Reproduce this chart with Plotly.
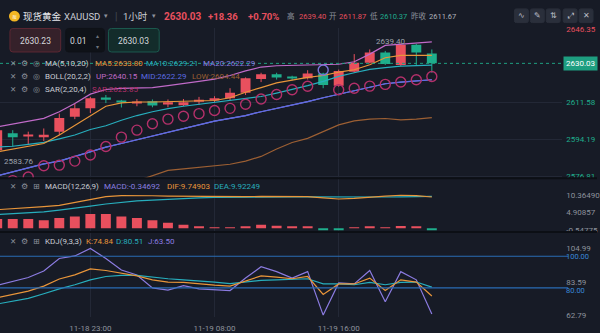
import plotly.graph_objects as go

W, H = 600, 333
PLOT_RIGHT = 565          # right edge of the chart panes, px
FONT = "Roboto, 'Noto Sans CJK SC', sans-serif"
ICON_FONT = "'DejaVu Sans', sans-serif"

# ---------------- data ----------------
times = ["11-18 17:00", "11-18 18:00", "11-18 19:00", "11-18 20:00", "11-18 21:00",
         "11-18 22:00", "11-18 23:00", "11-19 00:00", "11-19 01:00", "11-19 02:00",
         "11-19 03:00", "11-19 04:00", "11-19 05:00", "11-19 07:00", "11-19 08:00",
         "11-19 09:00", "11-19 10:00", "11-19 11:00", "11-19 12:00", "11-19 13:00",
         "11-19 14:00", "11-19 15:00", "11-19 16:00", "11-19 17:00", "11-19 18:00",
         "11-19 19:00", "11-19 20:00", "11-19 21:00", "11-19 22:00"]
opens = [2589.0, 2597.1, 2595.6, 2595.2, 2597.8, 2604.8, 2608.8, 2613.9, 2612.2, 2611.5,
         2612.2, 2611.0, 2610.2, 2611.87, 2612.5, 2613.6, 2616.1, 2622.7, 2624.9, 2623.4,
         2623.0, 2625.2, 2619.5, 2626.1, 2630.3, 2635.2, 2629.3, 2638.8, 2634.7]
highs = [2600.1, 2598.5, 2597.8, 2599.3, 2606.3, 2611.0, 2614.2, 2615.1, 2612.8, 2613.2,
         2613.0, 2613.0, 2613.2, 2614.2, 2614.5, 2618.3, 2623.4, 2625.6, 2625.6, 2624.2,
         2626.8, 2625.6, 2627.1, 2634.4, 2636.6, 2635.9, 2639.40, 2639.2, 2636.6]
lows = [2583.76, 2590.8, 2591.9, 2593.4, 2596.1, 2603.7, 2606.6, 2611.3, 2609.2, 2609.8,
        2609.3, 2609.3, 2609.9, 2610.37, 2611.6, 2612.5, 2615.1, 2621.2, 2622.4, 2622.0,
        2622.4, 2618.3, 2619.0, 2625.6, 2630.0, 2629.3, 2628.8, 2629.3, 2625.6]
closes = [2598.5, 2595.2, 2596.1, 2596.3, 2604.2, 2608.8, 2613.6, 2612.8, 2611.6, 2612.0,
          2610.1, 2611.7, 2611.67, 2612.9, 2613.6, 2616.1, 2623.0, 2624.9, 2623.4, 2623.0,
          2625.2, 2619.8, 2626.4, 2630.3, 2635.2, 2629.7, 2638.8, 2635.2, 2630.03]

ma5 = [2588.3, 2589.6, 2590.9, 2592.2, 2596.2, 2600.6, 2605.4, 2609.8, 2611.4, 2611.8,
       2611.8, 2612.0, 2612.0, 2612.2, 2612.5, 2613.8, 2616.4, 2618.6, 2620.8, 2622.1,
       2623.4, 2624.3, 2625.9, 2627.0, 2629.4, 2632.7, 2633.8, 2633.8, 2633.80]
ma10 = [2590.5, 2590.9, 2591.8, 2592.7, 2594.4, 2596.2, 2598.8, 2600.6, 2603.2, 2605.4,
        2607.2, 2608.7, 2609.8, 2610.7, 2611.6, 2612.5, 2613.3, 2614.4, 2616.0, 2617.7,
        2619.5, 2621.5, 2623.9, 2625.6, 2627.2, 2628.0, 2628.7, 2629.0, 2629.21]
ma20 = [2576.9, 2578.8, 2580.7, 2582.6, 2583.9, 2586.1, 2588.3, 2590.5, 2592.2, 2594.0,
        2595.8, 2597.5, 2599.3, 2601.0, 2602.8, 2604.1, 2605.4, 2607.2, 2608.7, 2610.3,
        2612.0, 2613.8, 2615.5, 2617.3, 2619.05, 2620.4, 2621.2, 2621.9, 2622.29]
boll_up = [2600.1, 2601.5, 2602.8, 2604.1, 2607.2, 2611.1, 2615.5, 2617.7, 2618.2, 2618.4,
           2618.6, 2619.5, 2620.4, 2621.5, 2622.6, 2624.3, 2626.5, 2628.3, 2628.9, 2629.1,
           2629.4, 2629.6, 2629.6, 2630.8, 2634.4, 2638.5, 2639.1, 2639.6, 2640.15]
boll_mid = [2576.9, 2578.8, 2580.7, 2582.6, 2583.9, 2586.1, 2588.3, 2590.5, 2592.2, 2594.0,
            2595.8, 2597.5, 2599.3, 2601.0, 2602.8, 2604.1, 2605.4, 2607.2, 2608.7, 2610.3,
            2612.0, 2613.8, 2615.5, 2617.3, 2619.05, 2620.4, 2621.2, 2621.9, 2622.29]
boll_low = [2555.0, 2557.0, 2559.0, 2561.0, 2560.0, 2561.0, 2564.0, 2568.0, 2571.5, 2574.5,
            2577.0, 2579.5, 2580.2, 2581.0, 2581.7, 2582.4, 2583.9, 2586.1, 2589.6, 2592.7,
            2594.6, 2597.8, 2601.0, 2602.9, 2603.7, 2604.0, 2603.4, 2603.7, 2604.44]
sar = [2572.9, 2574.7, 2576.4, 2581.7, 2582.0, 2583.9, 2586.8, 2590.8, 2595.2, 2598.5,
       2601.5, 2603.7, 2605.1, 2606.3, 2607.8, 2608.8, 2610.7, 2613.2, 2615.3, 2617.6,
       2619.2, 2626.9, 2617.6, 2618.3, 2619.3, 2620.1, 2621.2, 2622.3, 2623.85]

macd_hist = [2.9, 2.9, 2.9, 2.46, 3.17, 3.63, 4.45, 4.45, 3.63, 3.17,
             2.46, 1.72, 1.09, 0.63, 0.27, 0.15, 0.63, 1.09, 0.82, 0.63,
             0.46, -0.46, -0.46, 0.2, 0.64, 0.2, 0.73, 0.55, -0.34692]
dif = [5.79, 6.07, 6.34, 6.75, 7.16, 8.11, 9.07, 9.89, 10.16, 10.22,
       10.14, 10.03, 9.97, 9.92, 9.81, 9.75, 9.84, 9.95, 9.95, 9.92,
       9.86, 9.48, 9.13, 9.34, 9.75, 10.03, 10.30, 10.16, 9.74903]
dea = [4.29, 4.56, 4.84, 5.11, 5.66, 6.20, 6.89, 7.57, 8.11, 8.52,
       8.80, 9.07, 9.29, 9.48, 9.62, 9.70, 9.73, 9.75, 9.78, 9.80,
       9.81, 9.76, 9.72, 9.70, 9.72, 9.76, 9.80, 9.86, 9.92249]

k_line = [73.8, 76.0, 78.0, 81.1, 85.6, 88.2, 92.0, 91.0, 89.3, 87.6,
          85.1, 83.7, 83.5, 82.5, 81.7, 81.1, 84.1, 87.6, 86.8, 85.8,
          87.2, 75.9, 82.5, 82.5, 86.2, 78.3, 85.1, 83.7, 74.84]
d_line = [69.8, 71.6, 73.4, 76.3, 79.4, 82.0, 85.1, 87.2, 87.9, 87.9,
          86.8, 85.8, 85.1, 84.5, 83.7, 82.7, 83.7, 84.8, 85.1, 85.6,
          85.8, 82.5, 82.5, 82.0, 83.5, 82.0, 83.5, 83.7, 80.51]
j_line = [81.7, 84.0, 86.6, 90.7, 98.6, 100.2, 104.99, 98.6, 91.3, 88.2,
          80.0, 78.6, 81.4, 79.4, 78.9, 78.3, 86.2, 93.4, 90.3, 86.2,
          90.3, 62.79, 83.1, 82.5, 91.0, 71.3, 90.3, 85.1, 63.50]

price_ticks = [2646.35, 2611.58, 2594.19, 2576.81]
macd_ticks = [10.36490, 4.90857, -0.54775]
kdj_ticks = [104.99, 83.59, 62.79]
kdj_levels = [100.0, 80.0]
time_ticks = ["11-18 23:00", "11-19 08:00", "11-19 16:00"]

last_price = 2630.03
change = 18.36
change_pct = 0.70
day_high, day_open, day_low, prev_close = 2639.40, 2611.87, 2610.37, 2611.67
bid_price, lot_size, ask_price = 2630.23, "0.01", 2630.03

# ---------------- styling ----------------
BG = "#171b26"
GRID = "#232836"
RED = "#e9505e"
GREEN = "#1fae8c"
C_MA5 = "#e8953a"
C_MA10 = "#27aebd"
C_MA20 = "#8b7be0"
C_UP = "#c06ac8"
C_MID = "#5c6be3"
C_LOW = "#9c5f33"
C_SAR = "#b3306a"
C_SAR_DN = "#7a74d8"
C_MACD = "#8a7fe0"
C_LEVEL = "#2a6db5"
GRAY = "#8d929c"
TXT = "#c9ccd3"


def X(px):
    return px / W


def Y(py):
    return 1 - py / H


idx = list(range(len(times)))
x_range = [2.8 / 15.6, (PLOT_RIGHT + 2.8) / 15.6]

fig = go.Figure()

# candle wicks
for col, up in ((RED, True), (GREEN, False)):
    wx, wy = [], []
    for i in idx:
        if (closes[i] >= opens[i]) == up:
            wx += [i, i, None]
            wy += [lows[i], highs[i], None]
    fig.add_trace(go.Scatter(x=wx, y=wy, mode="lines", line=dict(color=col, width=1),
                             hoverinfo="skip", xaxis="x", yaxis="y"))

# candle bodies
body_base = [min(o, c) for o, c in zip(opens, closes)]
body_h = [max(abs(c - o), 0.55) for o, c in zip(opens, closes)]
body_col = [RED if c >= o else GREEN for o, c in zip(opens, closes)]
fig.add_trace(go.Bar(x=idx, y=body_h, base=body_base, width=0.64,
                     marker=dict(color=body_col, line=dict(width=0)),
                     hoverinfo="skip", xaxis="x", yaxis="y"))

# overlays
for series, col in ((boll_low, C_LOW), (boll_up, C_UP), (ma20, C_MA20),
                    (boll_mid, C_MID), (ma10, C_MA10), (ma5, C_MA5)):
    fig.add_trace(go.Scatter(x=idx, y=series, mode="lines", line=dict(color=col, width=1.2),
                             hoverinfo="skip", xaxis="x", yaxis="y"))

sar_col = [C_SAR if s < lo else C_SAR_DN for s, lo in zip(sar, lows)]
fig.add_trace(go.Scatter(x=idx, y=sar, mode="markers",
                         marker=dict(symbol="circle-open", size=10, color=sar_col,
                                     line=dict(width=1.4, color=sar_col)),
                         hoverinfo="skip", xaxis="x", yaxis="y"))

# MACD pane
fig.add_trace(go.Bar(x=idx, y=macd_hist, width=0.64,
                     marker=dict(color=[RED if v >= 0 else GREEN for v in macd_hist],
                                 line=dict(width=0)),
                     hoverinfo="skip", xaxis="x2", yaxis="y2"))
fig.add_trace(go.Scatter(x=idx, y=dea, mode="lines", line=dict(color=C_MA10, width=1.2),
                         hoverinfo="skip", xaxis="x2", yaxis="y2"))
fig.add_trace(go.Scatter(x=idx, y=dif, mode="lines", line=dict(color=C_MA5, width=1.2),
                         hoverinfo="skip", xaxis="x2", yaxis="y2"))

# KDJ pane
for series, col in ((j_line, C_MA20), (d_line, C_MA10), (k_line, C_MA5)):
    fig.add_trace(go.Scatter(x=idx, y=series, mode="lines", line=dict(color=col, width=1.2),
                             hoverinfo="skip", xaxis="x3", yaxis="y3"))

# ---------------- shapes ----------------
shapes = []


def rrect(x0, y0, x1, y1, r, fill, line=None):
    p = (f"M {X(x0 + r)},{Y(y0)} L {X(x1 - r)},{Y(y0)} Q {X(x1)},{Y(y0)} {X(x1)},{Y(y0 + r)} "
         f"L {X(x1)},{Y(y1 - r)} Q {X(x1)},{Y(y1)} {X(x1 - r)},{Y(y1)} "
         f"L {X(x0 + r)},{Y(y1)} Q {X(x0)},{Y(y1)} {X(x0)},{Y(y1 - r)} "
         f"L {X(x0)},{Y(y0 + r)} Q {X(x0)},{Y(y0)} {X(x0 + r)},{Y(y0)} Z")
    shapes.append(dict(type="path", path=p, xref="paper", yref="paper", fillcolor=fill,
                       line=dict(color=line or fill, width=1), layer="above"))


# pane separators
for yy in (178, 233):
    shapes.append(dict(type="line", xref="paper", yref="paper", x0=0, x1=1, y0=Y(yy), y1=Y(yy),
                       line=dict(color="#0c0f15", width=2)))

# last price dotted line
shapes.append(dict(type="line", xref="paper", yref="y", x0=0, x1=X(PLOT_RIGHT),
                   y0=last_price, y1=last_price, line=dict(color="#1f9e80", width=1, dash="dot")))

# KDJ reference levels
for lv in kdj_levels:
    shapes.append(dict(type="line", xref="paper", yref="y3", x0=0, x1=X(PLOT_RIGHT + 6),
                       y0=lv, y1=lv, line=dict(color=C_LEVEL, width=1.2)))

# coin icon
shapes.append(dict(type="circle", xref="paper", yref="paper", x0=X(9), x1=X(20), y0=Y(18), y1=Y(7),
                   fillcolor="#f3b623", line=dict(color="#f3b623", width=0)))

# order boxes
rrect(10, 25, 61, 49, 3, "#35212a", "#5c2833")
rrect(66, 25, 105, 49, 3, "#0f1218", "#0f1218")
rrect(109, 25, 160, 49, 3, "#132c2b", "#1c5a4f")

# toolbar buttons
tool_boxes = [(517, 531), (533, 547), (549, 563), (566, 580), (582, 596)]
for x0, x1 in tool_boxes:
    rrect(x0, 5, x1, 19, 2, "#2a2f3b")

# ---------------- text ----------------
ann = []


def label(x, y, text, color, size=8, anchor="left", family=FONT, xref="paper", yref="paper",
          **kw):
    d = dict(x=X(x) if xref == "paper" else x, y=Y(y) if yref == "paper" else y,
             xref=xref, yref=yref, text=text, showarrow=False, xanchor=anchor,
             yanchor="middle", font=dict(color=color, size=size, family=family), borderpad=0)
    d.update(kw)
    ann.append(d)


# header line
label(14.5, 12.5, "≋", "#ffffff", 6, "center", ICON_FONT)
label(22, 12.5, "现货黄金", "#e6e8ec", 9.5)
label(63, 12.5, "XAUUSD", TXT, 9.5)
label(104, 12.5, "▾", GRAY, 7, family=ICON_FONT)
label(115, 12.5, "|", "#454a57", 10)
label(123, 12.5, "1小时", TXT, 9.5)
label(152, 12.5, "▾", GRAY, 7, family=ICON_FONT)
label(164, 12.5, f"<b>{last_price:.2f}</b>", RED, 10)
label(208, 12.5, f"<b>+{change:.2f}</b>", RED, 9.5)
label(248, 12.5, f"<b>+{change_pct:.2f}%</b>", RED, 9.5)
label(287, 12.5, "高", GRAY, 7.5)
label(299, 12.5, f"{day_high:.2f}", RED, 7.5)
label(330, 12.5, "开", GRAY, 7.5)
label(340, 12.5, f"{day_open:.2f}", RED, 7.5)
label(371, 12.5, "低", GRAY, 7.5)
label(381, 12.5, f"{day_low:.2f}", GREEN, 7.5)
label(412, 12.5, "昨收", GRAY, 7.5)
label(430, 12.5, f"{prev_close:.2f}", "#aeb2ba", 7.5)

for (x0, x1), g in zip(tool_boxes, ["∿", "✎", "⇅", "⤢", "✕"]):
    label((x0 + x1) / 2, 12, g, "#b9bdc6", 8, "center", ICON_FONT)

# order boxes text
label(35.5, 37.5, f"{bid_price:.2f}", "#d6d8dd", 8.5, "center")
label(79, 37.5, lot_size, "#d6d8dd", 8.5, "center")
label(98, 32, "▴", "#6d727d", 6, "center", ICON_FONT)
label(98, 43, "▾", "#6d727d", 6, "center", ICON_FONT)
label(134.5, 37.5, f"{ask_price:.2f}", "#d6d8dd", 8.5, "center")


def icons(y, third):
    label(13, y, "✕", GRAY, 7.5, "center", ICON_FONT)
    label(25, y, "⚙", GRAY, 8, "center", ICON_FONT)
    label(37, y, third, GRAY, 8, "center", ICON_FONT)


# indicator legends
icons(61, "◎")
label(44, 61, "MA(5,10,20)", TXT, 8)
label(94, 61, f"MA5:{ma5[-1]:.2f}", C_MA5, 8)
label(146, 61, f"MA10:{ma10[-1]:.2f}", C_MA10, 8)
label(203, 61, f"MA20:{ma20[-1]:.2f}", C_MA20, 8)

icons(74, "◎")
label(44, 74, "BOLL(20,2,2)", TXT, 8)
label(95, 74, f"UP:{boll_up[-1]:.2f}", C_UP, 8)
label(141, 74, f"MID:{boll_mid[-1]:.2f}", C_MID, 8)
label(192, 74, f"LOW:{boll_low[-1]:.2f}", C_LOW, 8)

icons(87, "◎")
label(44, 87, "SAR(2,20,4)", TXT, 8)
label(91, 87, f"SAR:{sar[-1]:.2f}", C_SAR, 8)

icons(186, "⊞")
label(44, 186, "MACD(12,26,9)", TXT, 8)
label(104, 186, f"MACD:{macd_hist[-1]:.5f}", C_MACD, 8)
label(167, 186, f"DIF:{dif[-1]:.5f}", C_MA5, 8)
label(214, 186, f"DEA:{dea[-1]:.5f}", C_MA10, 8)

icons(243, "⊞")
label(44, 243, "KDJ(9,3,3)", TXT, 8)
label(85, 243, f"K:{k_line[-1]:.2f}", C_MA5, 8)
label(116, 243, f"D:{d_line[-1]:.2f}", C_MA10, 8)
label(148, 243, f"J:{j_line[-1]:.2f}", C_MA20, 8)

# extreme price markers
i_hi = highs.index(max(highs))
i_lo = lows.index(min(lows))
label(i_hi, max(highs), f"{max(highs):.2f}", "#9ea3ad", 8, "right", xref="x", yref="y",
      xshift=6, yshift=2)
label(3, min(lows), f"{min(lows):.2f}", "#9ea3ad", 8, "left", yref="y")

# last price tag on the price scale
label(566, last_price, f"{last_price:.2f}", "#ffffff", 8, "left", yref="y",
      bgcolor="#1e9e80", borderpad=2)

# KDJ level tags (the lower one nudged below the neighbouring tick label)
for lv, dy in zip(kdj_levels, (0, -3)):
    label(568, lv, f"{lv:.2f}", "#3a88d8", 7.5, "left", yref="y3", yshift=dy)

# ---------------- axes ----------------
tick_idx = [times.index(t) for t in time_ticks]
price_text = [f"<span style='color:{RED if v > prev_close else GREEN}'>{v:.2f}</span>"
              for v in price_ticks]

xcommon = dict(domain=[0, X(PLOT_RIGHT)], range=x_range, showgrid=True, gridcolor=GRID,
               gridwidth=1, tickvals=tick_idx, zeroline=False, showline=False, ticks="")
ycommon = dict(side="right", showgrid=False, zeroline=False, showline=False, ticks="",
               ticklabelstandoff=3, tickfont=dict(size=8, color=GRAY, family=FONT))

fig.update_layout(
    width=W, height=H, margin=dict(l=0, r=0, t=0, b=0),
    paper_bgcolor=BG, plot_bgcolor=BG, showlegend=False, barmode="overlay",
    font=dict(family=FONT, color=TXT),
    xaxis=dict(anchor="y", showticklabels=False, **xcommon),
    xaxis2=dict(anchor="y2", showticklabels=False, matches="x", **xcommon),
    xaxis3=dict(anchor="y3", showticklabels=True, matches="x", ticktext=time_ticks,
                ticklabelstandoff=5,
                tickfont=dict(size=8, color=GRAY, family=FONT), **xcommon),
    yaxis=dict(anchor="x", domain=[Y(178), Y(25)], range=[2575.8, 2646.5],
               tickvals=price_ticks, ticktext=price_text,
               **{**ycommon, "showgrid": True, "gridcolor": GRID}),
    yaxis2=dict(anchor="x2", domain=[Y(233), Y(178)], range=[-1.2, 15.6],
                tickvals=macd_ticks, ticktext=[f"{v:.5f}" for v in macd_ticks], **ycommon),
    yaxis3=dict(anchor="x3", domain=[Y(320), Y(233)], range=[61.42, 115.29],
                tickvals=kdj_ticks, ticktext=[f"{v:.2f}" for v in kdj_ticks], **ycommon),
    shapes=shapes, annotations=ann,
)

fig.write_html("out.html")
